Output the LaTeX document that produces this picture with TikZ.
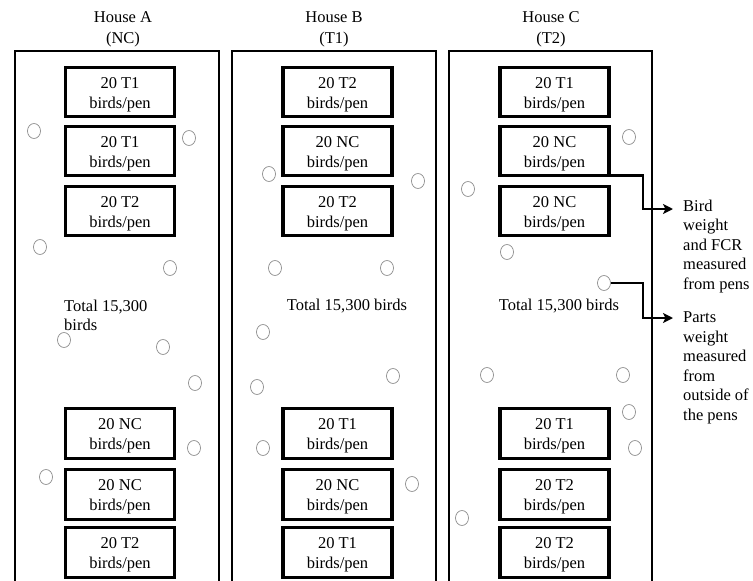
\documentclass[tikz,border=0pt]{standalone}
\usepackage{fontspec}
\setmainfont{Liberation Serif}
\usetikzlibrary{arrows.meta,shapes.geometric}
\newcommand\pentxt[1]{\rule{0pt}{16.5pt}#1\\birds/pen}
\begin{document}
\begin{tikzpicture}[x=1pt,y=-1pt,
  font=\fontsize{16.5}{20}\selectfont,
  house/.style={line width=2.6pt},
  pen/.style={draw, line width=3.4pt, minimum width=109pt, minimum height=49.5pt,
    align=center, inner sep=0pt},
  hlabel/.style={anchor=north, align=center, inner sep=0pt,
    font=\fontsize{16.5}{21}\selectfont},
  note/.style={anchor=north west, align=left, inner sep=0pt,
    font=\fontsize{16.5}{19.5}\selectfont},
  hole/.style={draw=black!45, line width=0.7pt, ellipse, minimum width=13pt,
    minimum height=15pt, inner sep=0pt},
  conn/.style={line width=2.6pt, -{Stealth[length=10pt,width=10pt,inset=2.5pt]}}
]
\useasboundingbox (0,0) rectangle (753,581);
% houses
\draw[house] (15,585) -- (15,51) -- (219,51) -- (219,585);
\draw[house] (232,585) -- (232,51) -- (436,51) -- (436,585);
\draw[house] (449,585) -- (449,51) -- (652,51) -- (652,585);
% house labels
\node[hlabel] (hA) at (123,11.5) {House A\\(NC)};
\node[hlabel] (hB) at (334,11.5) {House B\\(T1)};
\node[hlabel] (hC) at (551,11.5) {House C\\(T2)};
% pens house A
\node[pen] (a1) at (120,92) {\pentxt{20 T1}};
\node[pen] (a2) at (120,151) {\pentxt{20 T1}};
\node[pen] (a3) at (120,211) {\pentxt{20 T2}};
\node[pen] (a4) at (120,433.5) {\pentxt{20 NC}};
\node[pen] (a5) at (120,494.5) {\pentxt{20 NC}};
\node[pen] (a6) at (120,552.5) {\pentxt{20 T2}};
% pens house B
\node[pen] (b1) at (337.5,92) {\pentxt{20 T2}};
\node[pen] (b2) at (337.5,151) {\pentxt{20 NC}};
\node[pen] (b3) at (337.5,211) {\pentxt{20 T2}};
\node[pen] (b4) at (337.5,433.5) {\pentxt{20 T1}};
\node[pen] (b5) at (337.5,494.5) {\pentxt{20 NC}};
\node[pen] (b6) at (337.5,552.5) {\pentxt{20 T1}};
% pens house C
\node[pen] (c1) at (554.5,92) {\pentxt{20 T1}};
\node[pen] (c2) at (554.5,151) {\pentxt{20 NC}};
\node[pen] (c3) at (554.5,211) {\pentxt{20 NC}};
\node[pen] (c4) at (554.5,433.5) {\pentxt{20 T1}};
\node[pen] (c5) at (554.5,494.5) {\pentxt{20 T2}};
\node[pen] (c6) at (554.5,552.5) {\pentxt{20 T2}};
% totals
\node[note] (tA) at (64,299.7) {Total 15,300\\birds};
\node[anchor=base, inner sep=0pt] (tB) at (347,310) {Total 15,300 birds};
\node[anchor=base, inner sep=0pt] (tC) at (559,310) {Total 15,300 birds};
% holes
\foreach \n/\x/\y in {hA1/34/131, hA2/189/138, hA3/40/247, hA4/170/268, hA5/64/340,
  hA6/163/347, hA7/195/383, hA8/194/448, hA9/46/477,
  hB1/269/174, hB2/418/181, hB3/275/268, hB4/387/268, hB5/263/332,
  hB6/257/387, hB7/393/376, hB8/263/448, hB9/412/484,
  hC1/629/137, hC2/468/189, hC3/507/252, hC4/604/283, hC5/487/375,
  hC6/623/375, hC7/629/412, hC8/635/448, hC9/462/518}
  \node[hole] (\n) at (\x,\y) {};
% measurement notes
\node[note] (m1) at (683,199.7) {Bird\\weight\\and FCR\\measured\\from pens};
\node[note] (m2) at (683,311.7) {Parts\\weight\\measured\\from\\outside of\\the pens};
\coordinate (e1) at (643,209);
\coordinate (k1) at (673,209);
\coordinate (e2) at (643,318);
\coordinate (k2) at (673,318);
\draw[conn] ([yshift=2pt]c2.south east) -| (e1) -- (k1);
\draw[conn] (hC4.east) -| (e2) -- (k2);
\end{tikzpicture}
\end{document}
